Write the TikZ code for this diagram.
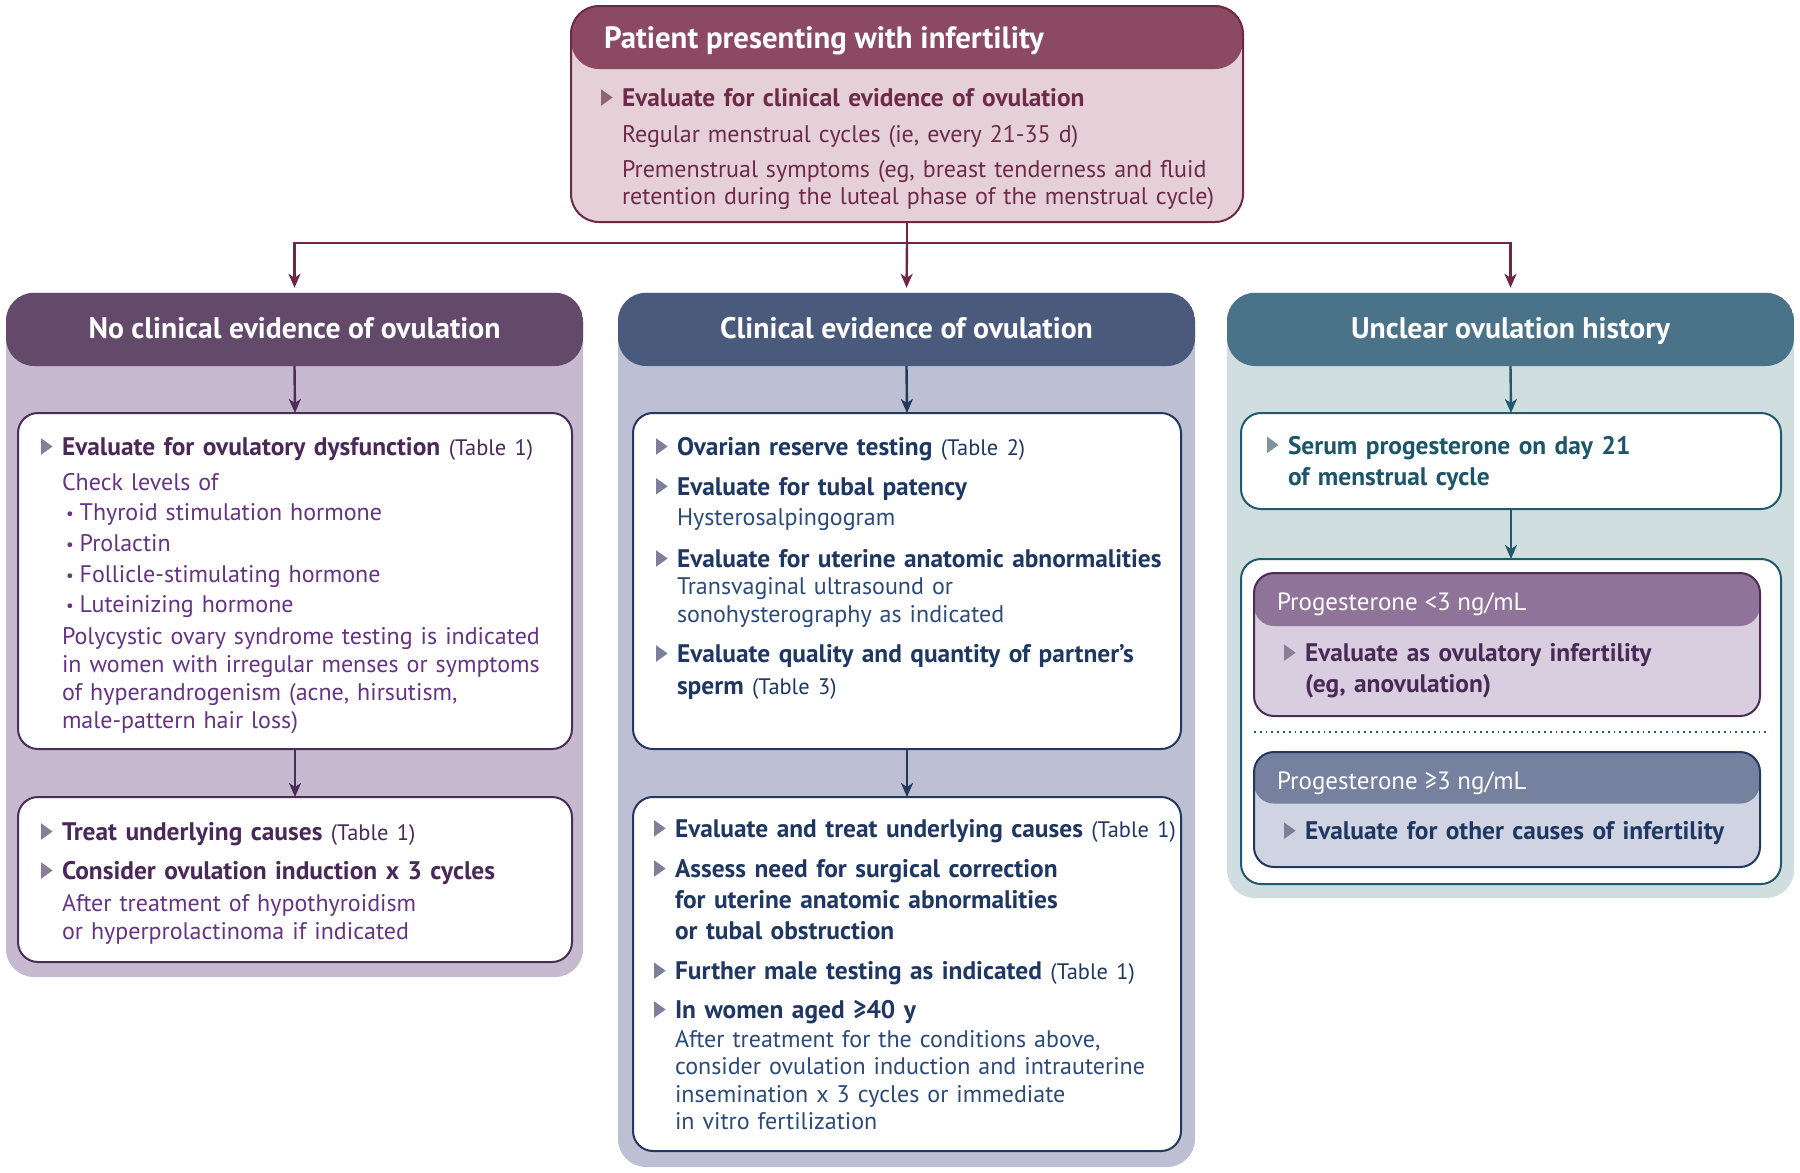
\documentclass[tikz,border=0pt]{standalone}
\usepackage{fontspec}
\setmainfont{PT Sans}
\usepackage{tikz}
\usetikzlibrary{shapes,arrows.meta}

\definecolor{topHead}{HTML}{8B4A62}
\definecolor{topFill}{HTML}{E4D0D6}
\definecolor{topLine}{HTML}{6E2846}
\definecolor{topText}{HTML}{6E2A48}
\definecolor{topTri}{HTML}{8E6577}
\definecolor{lHead}{HTML}{634A6B}
\definecolor{lFill}{HTML}{C7BAD0}
\definecolor{lLine}{HTML}{4B2D55}
\definecolor{lText}{HTML}{4A2857}
\definecolor{lSub}{HTML}{663384}
\definecolor{lTri}{HTML}{8B7D97}
\definecolor{mHead}{HTML}{4A5A7D}
\definecolor{mFill}{HTML}{BDC0D3}
\definecolor{mLine}{HTML}{22385F}
\definecolor{mText}{HTML}{1F3763}
\definecolor{mSub}{HTML}{2B4A7A}
\definecolor{mTri}{HTML}{7C809A}
\definecolor{rHead}{HTML}{4A7289}
\definecolor{rFill}{HTML}{D0DEE0}
\definecolor{rLine}{HTML}{1F5A6E}
\definecolor{rText}{HTML}{1C566A}
\definecolor{rTri}{HTML}{7F93A0}
\definecolor{loHead}{HTML}{8F7399}
\definecolor{loFill}{HTML}{D8CEDF}
\definecolor{hiHead}{HTML}{76809F}
\definecolor{hiFill}{HTML}{D0D4E2}

\newcommand{\tabref}[1]{{\fontsize{11.2}{13}\selectfont\mdseries(Table #1)}}
\newcommand{\dotitem}{\hspace*{2pt}{\fontsize{8.5}{8.5}\selectfont\raisebox{0.5pt}{•}}\hspace{3pt}}

\begin{document}
\begin{tikzpicture}[x=1pt,y=1pt]
\tikzstyle{every node}=[inner sep=0pt, outer sep=0pt];
\tikzstyle{colbox}=[rectangle, rounded corners=14pt];
\tikzstyle{wbox}=[rectangle, rounded corners=10pt, fill=white, line width=1pt];
\tikzstyle{colhd}=[text=white, text height=12pt, text depth=2.8pt, font=\fontsize{14.85}{17}\selectfont\bfseries];
\tikzstyle{subhd}=[anchor=base west, text=white, font=\fontsize{12.5}{15}\selectfont];
\tikzstyle{item}=[anchor=base west, text width=300pt, align=left, font=\fontsize{12.7}{15.5}\selectfont\bfseries];
\tikzstyle{sub}=[anchor=base west, text width=300pt, align=left, font=\fontsize{12}{13.8}\selectfont];
\tikzstyle{con}=[line width=1.2pt, -{Stealth[length=7pt,width=6pt,inset=2pt]}];
\useasboundingbox (0,0) rectangle (900,-586.5);

% top box
\node[colbox, fill=topFill, draw=topLine, line width=1pt, minimum width=336pt, minimum height=108pt,
  path picture={\fill[topHead] (path picture bounding box.north west) rectangle ([yshift=-31.5pt]path picture bounding box.north east);}]
  (top) at (453.5,-57) {};
\node[text=white, anchor=base west, font=\fontsize{15.4}{18}\selectfont\bfseries] (tophd) at (302,-24.2) {Patient presenting with infertility};
\node[item, text=topText] (tb1) at (311,-53.3) {Evaluate for clinical evidence of ovulation};
\node[sub, text=topText] (tb2) at (311,-71) {Regular menstrual cycles (ie, every 21-35 d)};
\node[sub, text=topText, font=\fontsize{12}{13.5}\selectfont] (tb3) at (311,-88.5)
  {Premenstrual symptoms (eg, breast tenderness and fluid\\retention during the luteal phase of the menstrual cycle)};

% left column
\node[colbox, fill=lFill, minimum width=288.5pt, minimum height=342.1pt,
  path picture={\fill[lHead] (path picture bounding box.north west) rectangle ([yshift=-36.6pt]path picture bounding box.north east);}]
  (lcol) at (147.25,-317.45) {};
\node[colhd, minimum width=288.5pt, minimum height=36.6pt] (lhd) at (147.25,-164.7) {No clinical evidence of ovulation};
\node[wbox, draw=lLine, minimum width=277pt, minimum height=168pt] (la) at (147.5,-290.5) {};
\node[wbox, draw=lLine, minimum width=277pt, minimum height=82.5pt] (lb) at (147.5,-439.75) {};
\node[item, text=lText] (la1) at (31,-227.8) {Evaluate for ovulatory dysfunction \tabref{1}};
\node[sub, text=lSub, font=\fontsize{12}{15.35}\selectfont] (la2) at (31,-245)
  {Check levels of\\ \dotitem Thyroid stimulation hormone\\ \dotitem Prolactin\\ \dotitem Follicle-stimulating hormone\\ \dotitem Luteinizing hormone};
\node[sub, text=lSub, font=\fontsize{12}{14}\selectfont] (la3) at (31,-322)
  {Polycystic ovary syndrome testing is indicated\\in women with irregular menses or symptoms\\of hyperandrogenism (acne, hirsutism,\\male-pattern hair loss)};
\node[item, text=lText] (lb1) at (31,-420.3) {Treat underlying causes \tabref{1}};
\node[item, text=lText] (lb2) at (31,-439.8) {Consider ovulation induction x 3 cycles};
\node[sub, text=lSub] (lb3) at (31,-455.7) {After treatment of hypothyroidism\\or hyperprolactinoma if indicated};

% middle column
\node[colbox, fill=mFill, minimum width=288.5pt, minimum height=437.1pt,
  path picture={\fill[mHead] (path picture bounding box.north west) rectangle ([yshift=-36.6pt]path picture bounding box.north east);}]
  (mcol) at (453.25,-364.95) {};
\node[colhd, minimum width=288.5pt, minimum height=36.6pt] (mhd) at (453.25,-164.7) {Clinical evidence of ovulation};
\node[wbox, draw=mLine, minimum width=274pt, minimum height=168pt] (ma) at (453.5,-290.5) {};
\node[wbox, draw=mLine, minimum width=274pt, minimum height=177pt] (mb) at (453.5,-487) {};
\node[item, text=mText] (ma1) at (338.5,-227.8) {Ovarian reserve testing \tabref{2}};
\node[item, text=mText] (ma2) at (338.5,-247.7) {Evaluate for tubal patency};
\node[sub, text=mSub] (ma3) at (338.5,-262.9) {Hysterosalpingogram};
\node[item, text=mText] (ma4) at (338.5,-283.8) {Evaluate for uterine anatomic abnormalities};
\node[sub, text=mSub] (ma5) at (338.5,-297.3) {Transvaginal ultrasound or\\sonohysterography as indicated};
\node[item, text=mText, font=\fontsize{12.7}{16}\selectfont\bfseries] (ma6) at (338.5,-331.3)
  {Evaluate quality and quantity of partner’s\\sperm \tabref{3}};
\node[item, text=mText] (mb1) at (337.5,-418.7) {Evaluate and treat underlying causes \tabref{1}};
\node[item, text=mText] (mb2) at (337.5,-438.8) {Assess need for surgical correction\\for uterine anatomic abnormalities\\or tubal obstruction};
\node[item, text=mText] (mb3) at (337.5,-489.9) {Further male testing as indicated \tabref{1}};
\node[item, text=mText] (mb4) at (337.5,-509.3) {In women aged ≥40 y};
\node[sub, text=mSub] (mb5) at (337.5,-523.5) {After treatment for the conditions above,\\consider ovulation induction and intrauterine\\insemination x 3 cycles or immediate\\in vitro fertilization};

% right column
\node[colbox, fill=rFill, minimum width=283.5pt, minimum height=302.6pt,
  path picture={\fill[rHead] (path picture bounding box.north west) rectangle ([yshift=-36.6pt]path picture bounding box.north east);}]
  (rcol) at (755.25,-297.7) {};
\node[colhd, minimum width=283.5pt, minimum height=36.6pt] (rhd) at (755.25,-164.7) {Unclear ovulation history};
\node[wbox, draw=rLine, minimum width=270pt, minimum height=48pt] (ra) at (755.5,-230.5) {};
\node[wbox, draw=rLine, minimum width=270pt, minimum height=162.5pt] (rb) at (755.5,-360.75) {};
\node[item, text=rText] (ra1) at (644,-227) {Serum progesterone on day 21\\of menstrual cycle};
\node[wbox, fill=loFill, draw=lLine, minimum width=253pt, minimum height=71.5pt,
  path picture={\fill[loHead] (path picture bounding box.north west) rectangle ([yshift=-26.5pt]path picture bounding box.north east);}]
  (rlo) at (753.5,-322.25) {};
\node[wbox, fill=hiFill, draw=mLine, minimum width=253pt, minimum height=57.5pt,
  path picture={\fill[hiHead] (path picture bounding box.north west) rectangle ([yshift=-25.8pt]path picture bounding box.north east);}]
  (rhi) at (753.5,-404.75) {};
\draw[rLine, dotted, line width=0.9pt] ([yshift=-8pt]rlo.south west) -- ([xshift=4pt,yshift=-8pt]rlo.south east);
\node[subhd] (rlohd) at (638.5,-305) {Progesterone <3 ng/mL};
\node[item, text=lText] (rl1) at (652.5,-330.9) {Evaluate as ovulatory infertility\\(eg, anovulation)};
\node[subhd] (rhihd) at (638.5,-394.6) {Progesterone ≥3 ng/mL};
\node[item, text=mText] (rh1) at (652.5,-419.9) {Evaluate for other causes of infertility};

% bullet triangles
\foreach \n/\c in {tb1/topTri,la1/lTri,lb1/lTri,lb2/lTri,ma1/mTri,ma2/mTri,ma4/mTri,ma6/mTri,
                   mb1/mTri,mb2/mTri,mb3/mTri,mb4/mTri,ra1/rTri,rl1/lTri,rh1/mTri}
  \fill[\c] ([xshift=-10.5pt,yshift=0.4pt]\n.base west) -- ++(0,8.3pt) -- ++(5.8pt,-4.15pt) -- cycle;

% connectors
\draw[topLine, line width=1.2pt] (top.south) -- ++(0,-10.5) coordinate (split);
\draw[con, topLine, shorten >=2.5pt] (split) -| (lhd.north);
\draw[con, topLine, shorten >=2.5pt] (split) -- (mhd.north);
\draw[con, topLine, shorten >=2.5pt] (split) -| (rhd.north);
\draw[con, lLine] (lhd.south) -- (la.north);
\draw[con, lLine] (la.south) -- (lb.north);
\draw[con, mLine] (mhd.south) -- (ma.north);
\draw[con, mLine] (ma.south) -- (mb.north);
\draw[con, rLine] (rhd.south) -- (ra.north);
\draw[con, rLine] (ra.south) -- (rb.north);
\end{tikzpicture}
\end{document}
